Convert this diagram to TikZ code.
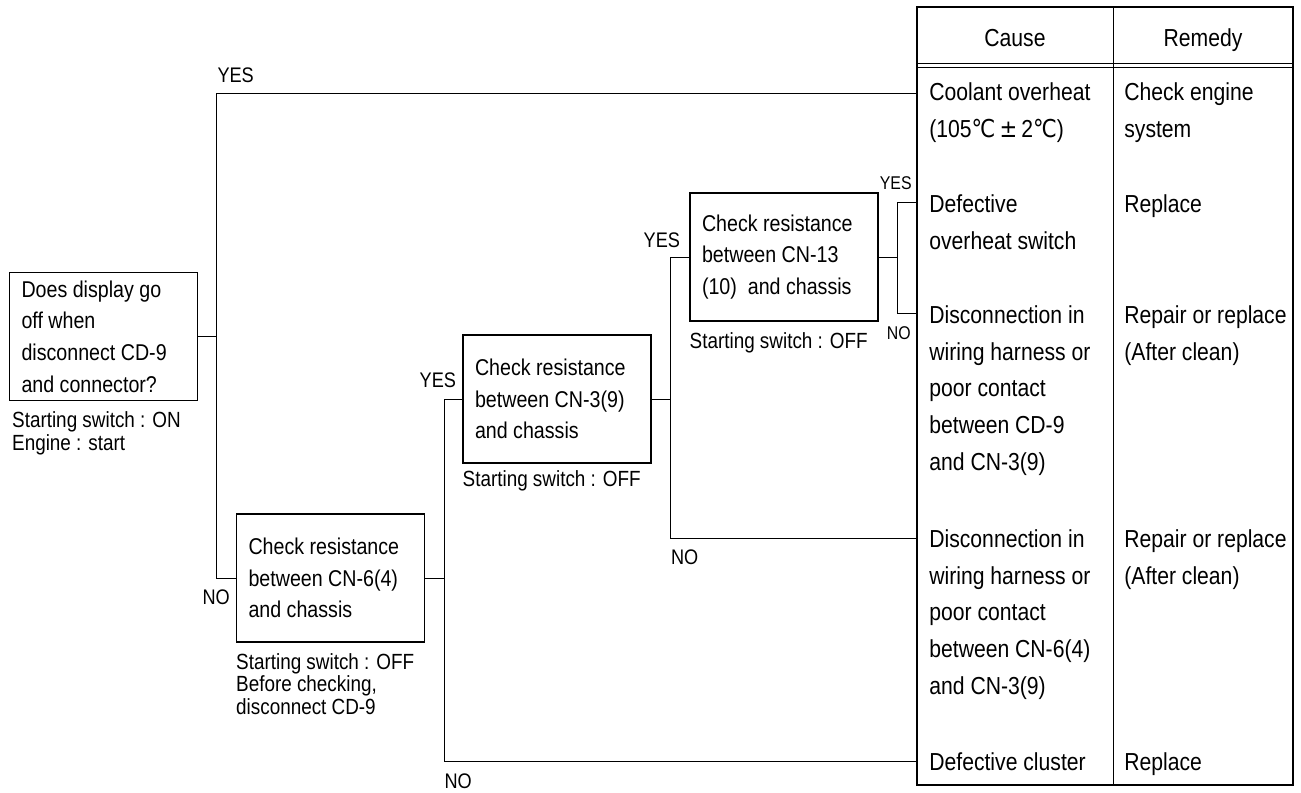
\documentclass[tikz,border=0pt]{standalone}
\usepackage{fontspec}
\setmainfont{Liberation Sans}[FakeStretch=0.86]
\newfontfamily\degfont{DejaVu Sans}[FakeStretch=0.86]
\usetikzlibrary{calc, positioning}

\begin{document}
\begin{tikzpicture}[x=0.02cm, y=-0.02cm, node distance=0.2cm]
		\def\boxtext{\fontsize{13}{18}\selectfont};
		\def\notetext{\fontsize{12.5}{13}\selectfont};
		\def\celltext{\fontsize{14}{21}\selectfont};
		\def\answertext{\fontsize{12}{14}\selectfont};
		\def\smallanswer{\fontsize{10.5}{12}\selectfont};

		\tikzstyle{check} = [draw, line width=0.8pt, minimum width=3.76cm, minimum height=2.56cm, text width=3.28cm, inner xsep=0.24cm, align=flush left, font=\boxtext]
		\tikzstyle{note} = [inner sep=0, align=flush left, font=\notetext]
		\tikzstyle{cell} = [inner sep=0, anchor=north west, align=flush left, font=\celltext]
		\tikzstyle{answer} = [inner sep=0, font=\answertext]
		\tikzstyle{link} = [line width=0.5pt]

		\useasboundingbox (0,0) rectangle (1301,793);

		% checks
		\node[check] (display) at (103.5,336.5) {Does display go\\off when\\disconnect CD-9\\and connector?};
		\node[note, below=of display.south west, anchor=north west, xshift=0.06cm] (displaynote) {\strut Starting switch : ON\\Engine : start};

		\node[check] (cn6) at (330.5,578) {Check resistance\\between CN-6(4)\\and chassis};
		\node[note, below=of cn6.south west, anchor=north west] (cn6note) {\strut Starting switch : OFF\\Before checking,\\disconnect CD-9};

		\node[check] (cn3) at (557,399) {Check resistance\\between CN-3(9)\\and chassis};
		\node[note, below=0.12cm of cn3.south west, anchor=north west] (cn3note) {\strut Starting switch : OFF};

		\node[check] (cn13) at (784,257) {Check resistance\\between CN-13\\(10)~ and chassis};
		\node[note, below=of cn13.south west, anchor=north west] (cn13note) {\strut Starting switch : OFF};

		% table
		\coordinate (tabnw) at (917,7);
		\coordinate (tabse) at (1293,785);
		\coordinate (tabmid) at (1113,7);
		\draw[line width=1pt] (tabnw) rectangle (tabse);
		\draw[link] (tabmid) -- (tabmid |- tabse);
		\draw[link] (917,63) -- (1293,63);
		\draw[link] (917,67) -- (1293,67);

		\node[inner sep=0, font=\celltext, anchor=base] (cause) at (1015,47) {Cause};
		\node[inner sep=0, font=\celltext, anchor=base] (remedy) at (1203,47) {Remedy};

		\node[cell] (cause1) at (929,74) {\strut Coolant overheat\\(105{\degfont ℃\,±\,}2{\degfont ℃})};
		\node[cell] (remedy1) at (1124,74) {\strut Check engine\\system};
		\node[cell] (cause2) at (929,186) {\strut Defective\\overheat switch};
		\node[cell] (remedy2) at (1124,186) {\strut Replace};
		\node[cell] (cause3) at (929,297) {\strut Disconnection in\\wiring harness or\\poor contact\\between CD-9\\and CN-3(9)};
		\node[cell] (remedy3) at (1124,297) {\strut Repair or replace\\(After clean)};
		\node[cell] (cause4) at (929,521) {\strut Disconnection in\\wiring harness or\\poor contact\\between CN-6(4)\\and CN-3(9)};
		\node[cell] (remedy4) at (1124,521) {\strut Repair or replace\\(After clean)};
		\node[cell] (cause5) at (929,744) {\strut Defective cluster};
		\node[cell] (remedy5) at (1124,744) {\strut Replace};

		\coordinate (in1) at (917,93);
		\coordinate (in2) at (917,202);
		\coordinate (in3) at (917,313);
		\coordinate (in4) at (917,538);
		\coordinate (in5) at (917,761);

		% connectors
		\coordinate (split1) at ($(display.east)+(18,0)$);
		\draw[link] (display.east) -- (split1) |- (in1);
		\draw[link] (split1) |- (cn6.west);

		\coordinate (split2) at ($(cn6.east)+(19,0)$);
		\draw[link] (cn6.east) -- (split2) |- (cn3.west);
		\draw[link] (split2) |- (in5);

		\coordinate (split3) at ($(cn3.east)+(19,0)$);
		\draw[link] (cn3.east) -- (split3) |- (cn13.west);
		\draw[link] (split3) |- (in4);

		\coordinate (split4) at ($(cn13.east)+(19,0)$);
		\draw[link] (cn13.east) -- (split4) |- (in2);
		\draw[link] (split4) |- (in3);

		% yes / no
		\node[answer, anchor=base west] (yes1) at ($(split1 |- in1)+(1,-10)$) {YES};
		\node[answer, anchor=base] (no1) at ($(split1 |- cn6.west)+(0,26)$) {NO};
		\node[answer, anchor=base east] (yes2) at ($(cn3.west)+(-6,-11)$) {YES};
		\node[answer, anchor=base west] (no2) at ($(split2 |- in5)+(0,27)$) {NO};
		\node[answer, anchor=base east] (yes3) at ($(cn13.west)+(-9,-9)$) {YES};
		\node[answer, anchor=base west] (no3) at ($(split3 |- in4)+(0,26)$) {NO};
		\node[answer, font=\smallanswer, anchor=base east] (yes4) at ($(in2)+(-5,-12)$) {YES};
		\node[answer, font=\smallanswer, anchor=base east] (no4) at ($(in3)+(-6,27)$) {NO};
	\end{tikzpicture}
\end{document}
